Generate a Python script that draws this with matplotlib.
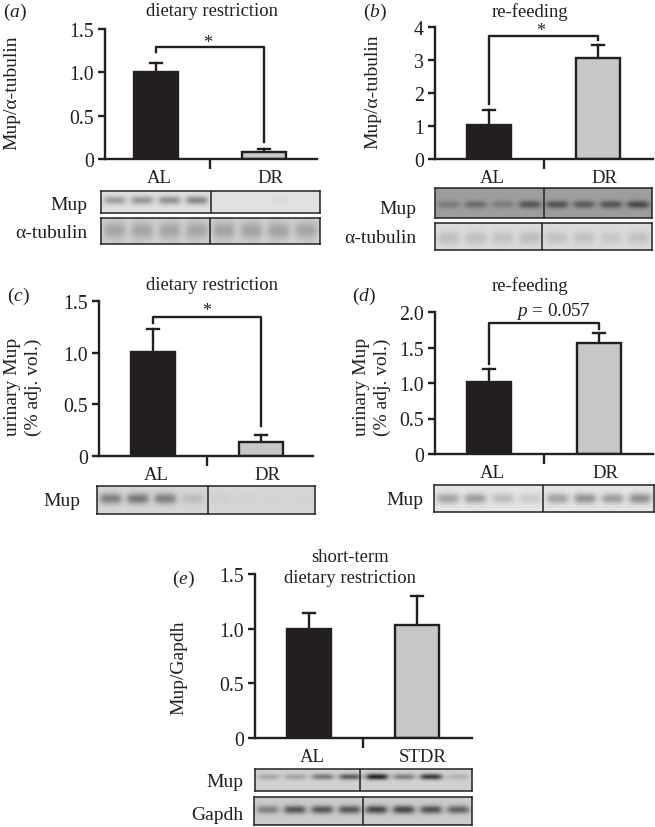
import numpy as np
import matplotlib
matplotlib.use('Agg')
import matplotlib.pyplot as plt

plt.rcParams['font.family'] = ['Liberation Serif', 'DejaVu Serif']
plt.rcParams['mathtext.fontset'] = 'custom'
plt.rcParams['mathtext.rm'] = 'Liberation Serif'
plt.rcParams['mathtext.it'] = 'Liberation Serif:italic'

W, H = 655, 828
INK = '#231f20'
BAR_COLORS = ['#231f20', '#c5c7c9']
TITLE_SIZE = 13.4

# bar heights and top of error bars
means_a = [1.0, 0.08]
errtop_a = [1.11, 0.12]
means_b = [1.02, 3.05]
errtop_b = [1.5, 3.45]
means_c = [1.01, 0.14]
errtop_c = [1.23, 0.2]
means_d = [1.02, 1.56]
errtop_d = [1.2, 1.71]
means_e = [1.0, 1.03]
errtop_e = [1.14, 1.3]

# brackets: top, left end, right end
bracket_a = [1.29, 1.235, 0.196]
bracket_b = [3.73, 1.67, 3.6]
bracket_c = [1.345, 1.29, 0.29]
bracket_d = [1.845, 1.27, 1.76]

ticks_a = [0, 0.5, 1.0, 1.5]
ticks_b = [0, 1, 2, 3, 4]
ticks_d = [0, 0.5, 1.0, 1.5, 2.0]

# band darkness per lane on the blots
mup_a = [0.26, 0.28, 0.3, 0.34, 0.0, 0.0, 0.01, 0.0]
tub_a = [0.17, 0.17, 0.17, 0.17, 0.18, 0.18, 0.18, 0.17]
mup_b = [0.14, 0.2, 0.13, 0.28, 0.3, 0.26, 0.3, 0.34]
tub_b = [0.11, 0.11, 0.1, 0.12, 0.1, 0.1, 0.08, 0.1]
mup_c = [0.34, 0.36, 0.34, 0.1, 0.03, 0.015, 0.01, 0.01]
mup_d = [0.26, 0.28, 0.16, 0.1, 0.26, 0.32, 0.28, 0.34]
mup_e = [0.16, 0.18, 0.34, 0.45, 0.68, 0.32, 0.58, 0.12]
gapdh_e = [0.3, 0.46, 0.46, 0.46, 0.52, 0.52, 0.48, 0.42]


def px_text(x, y, s, size=14, ha='center', rotation=0, spacing=1.0):
    fig.text(x / W, 1 - y / H, s, fontsize=size, ha=ha, va='center',
             rotation=rotation, color=INK, linespacing=spacing)


def bar_panel(left, right, y0, top, c1, c2, ymax, ticks, means, errtop, names, bracket=None):
    ax = fig.add_axes([left / W, 1 - y0 / H, (right - left) / W, (y0 - top) / H])
    sp = c2 - c1
    ax.set_xlim((left - c1) / sp, (right - c1) / sp)
    ax.set_ylim(0, ymax)
    ax.patch.set_alpha(0)
    ax.bar([0, 1], means, width=44 / sp, color=BAR_COLORS, edgecolor=INK, linewidth=1.7, zorder=3)
    for i in range(2):
        ax.plot([i, i], [means[i], errtop[i]], color=INK, lw=1.7, clip_on=False)
        ax.plot([i - 0.055, i + 0.055], [errtop[i], errtop[i]], color=INK, lw=1.7, clip_on=False)
    if bracket:
        t, l_end, r_end = bracket
        ax.plot([0, 0, 1, 1], [l_end, t, t, r_end], color=INK, lw=1.7, clip_on=False)
    for s in ['top', 'right']:
        ax.spines[s].set_visible(False)
    for s in ['left', 'bottom']:
        ax.spines[s].set_linewidth(1.7)
        ax.spines[s].set_color(INK)
        ax.spines[s].set_zorder(4)
    ax.set_yticks(ticks)
    ax.set_yticklabels([str(t) for t in ticks])
    ax.tick_params(axis='y', length=5, width=1.7, color=INK, labelcolor=INK, labelsize=14.3, pad=3)
    ax.set_xticks([0.5])
    ax.set_xticklabels([''])
    ax.tick_params(axis='x', length=7.5, width=1.7, color=INK)
    px_y = y0 + 19
    px_text(c1 + 3, px_y, names[0], size=13.5)
    px_text(c2 + 6, px_y, names[1], size=13.5)
    return ax


def blot(left, right, top, bottom, divider, bands, bg, band_y=0.45, band_h=0.16):
    ax = fig.add_axes([left / W, 1 - bottom / H, (right - left) / W, (bottom - top) / H])
    nx, ny = (right - left) * 2, (bottom - top) * 2
    xx, yy = np.meshgrid(np.linspace(0, 1, nx), np.linspace(0, 1, ny))
    img = np.full((ny, nx), bg, dtype=float)
    for i, b in enumerate(bands):
        cx = (i + 0.5) / len(bands)
        img -= b * np.exp(-((xx - cx) / 0.052) ** 4 - ((yy - band_y) / band_h) ** 2)
    ax.imshow(img, cmap='gray', vmin=0, vmax=1, aspect='auto', extent=[left, right, bottom, top])
    ax.axvline(divider, color=INK, lw=1.1)
    ax.set_xticks([])
    ax.set_yticks([])
    for s in ax.spines.values():
        s.set_linewidth(1.1)
        s.set_color(INK)


fig = plt.figure(figsize=(W / 100, H / 100), dpi=100)

# (a)
bar_panel(105, 317, 160, 30, 156, 264, 1.5, ticks_a, means_a, errtop_a, ['AL', 'DR'], bracket_a)
blot(101, 320, 192, 214, 211, mup_a, 0.88, 0.42, 0.2)
blot(101, 320, 219, 245, 210, tub_a, 0.82, 0.5, 0.34)
px_text(3, 12, r'($\it{a}$)', ha='left')
px_text(212, 12, 'dietary restriction', size=TITLE_SIZE)
px_text(12, 93, 'Mup/α-tubulin', rotation=90)
px_text(208, 43, '*', size=13)
px_text(87, 205, 'Mup', ha='right')
px_text(87, 234, 'α-tubulin', ha='right')

# (b)
bar_panel(435, 653, 160, 28, 489, 598, 4, ticks_b, means_b, errtop_b, ['AL', 'DR'], bracket_b)
blot(435, 652, 189, 219, 544, mup_b, 0.62, 0.55, 0.13)
blot(435, 652, 224, 251, 542, tub_b, 0.86, 0.55, 0.25)
px_text(363, 12, r'($\it{b}$)', ha='left')
px_text(530, 12, 're-feeding', size=TITLE_SIZE)
px_text(373, 92, 'Mup/α-tubulin', rotation=90)
px_text(541, 31, '*', size=13)
px_text(416, 210, 'Mup', ha='right')
px_text(416, 239, 'α-tubulin', ha='right')

# (c)
bar_panel(99, 313, 457, 302, 153, 261, 1.5, ticks_a, means_c, errtop_c, ['AL', 'DR'], bracket_c)
blot(97, 315, 487, 515, 208, mup_c, 0.84, 0.45, 0.2)
px_text(7, 296, r'($\it{c}$)', ha='left')
px_text(212, 286, 'dietary restriction', size=TITLE_SIZE)
px_text(23, 387, 'urinary Mup\n(% adj. vol.)', rotation=90, spacing=1.25)
px_text(207, 311, '*', size=13)
px_text(80, 502, 'Mup', ha='right')

# (d)
bar_panel(435, 653, 455, 313, 489, 599, 2.0, ticks_d, means_d, errtop_d, ['AL', 'DR'], bracket_d)
blot(434, 654, 486, 513, 543, mup_d, 0.9, 0.5, 0.2)
px_text(352, 296, r'($\it{d}$)', ha='left')
px_text(530, 286, 're-feeding', size=TITLE_SIZE)
px_text(372, 387, 'urinary Mup\n(% adj. vol.)', rotation=90, spacing=1.25)
px_text(553, 312, r'$\it{p}$ = 0.057', size=13.8)
px_text(423, 501, 'Mup', ha='right')

# (e)
bar_panel(255, 472, 739, 575, 309, 417, 1.5, ticks_a, means_e, errtop_e, ['AL', 'STDR'])
blot(255, 472, 770, 792, 360, mup_e, 0.82, 0.35, 0.14)
blot(254, 472, 798, 826, 363, gapdh_e, 0.8, 0.45, 0.15)
px_text(172, 579, r'($\it{e}$)', ha='left')
px_text(350, 557, 'short-term', size=TITLE_SIZE)
px_text(350, 579, 'dietary restriction', size=TITLE_SIZE)
px_text(179, 668, 'Mup/Gapdh', rotation=90)
px_text(243, 783, 'Mup', ha='right')
px_text(243, 816, 'Gapdh', ha='right')

fig.savefig('out.png', dpi=100)
